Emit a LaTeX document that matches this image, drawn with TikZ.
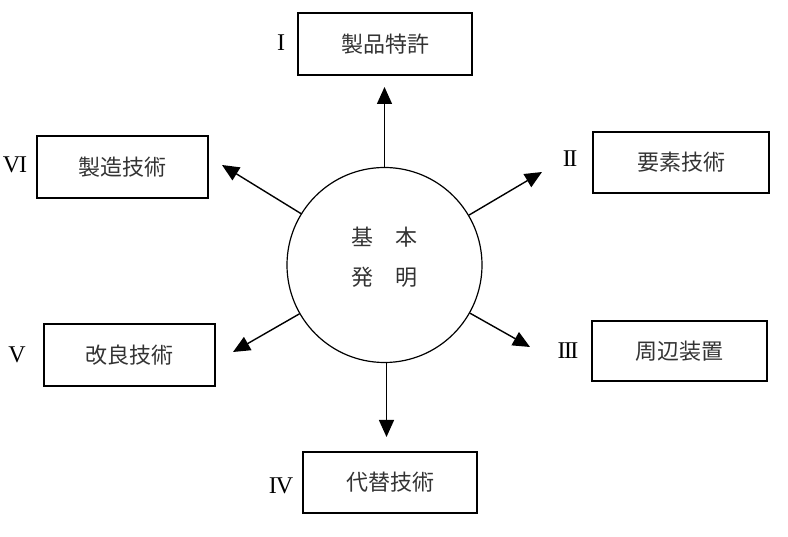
\documentclass[tikz,border=0pt]{standalone}
\usepackage{fontspec}
\setmainfont{Liberation Serif}
\newfontfamily\cjk{Noto Sans CJK JP}[Scale=1]
\usetikzlibrary{arrows.meta}
\begin{document}
\begin{tikzpicture}[x=1pt,y=-1pt,
  box/.style={draw, line width=1.6pt, minimum width=#1, inner sep=0pt, font=\cjk\fontsize{22}{26}\selectfont\color{black!80}},
  box/.default={172pt},
  num/.style={font=\fontsize{24}{26}\selectfont},
  arr/.style={line width=1.4pt, -{Triangle[length=17pt,width=15pt]}}]
\useasboundingbox (0,0) rectangle (788,537);
\node[draw, circle, line width=1.2pt, minimum size=195pt, inner sep=0pt] (c) at (384.5,265) {};
\node[font=\cjk\fontsize{22}{26}\selectfont\color{black!80}] (t1) at (384,237) {基\hspace{22pt}本};
\node[font=\cjk\fontsize{22}{26}\selectfont\color{black!80}] (t2) at (384,277) {発\hspace{22pt}明};
% boxes
\node[box=174pt, minimum height=62pt] (b1) at (385,44) {製品特許};
\node[box=176pt, minimum height=61pt] (b2) at (681,162.5) {要素技術};
\node[box=175pt, minimum height=60pt] (b3) at (679.5,351) {周辺装置};
\node[box=174pt, minimum height=61pt] (b4) at (390,482.5) {代替技術};
\node[box=171pt, minimum height=62pt] (b5) at (129.5,355) {改良技術};
\node[box=171pt, minimum height=62pt] (b6) at (122.5,167) {製造技術};
% numerals
\node[num] (n1) at (281,43) {I};
\node[num] (n2) at (570,159) {I\kern-1.5pt I};
\node[num] (n3) at (568,351) {I\kern-1.5pt I\kern-1.5pt I};
\node[num] (n4) at (281,486) {I\kern-1pt V};
\node[num] (n5) at (17,355) {V};
\node[num] (n6) at (15,165) {V\kern-1pt I};
% arrow tips
\coordinate (p1) at (384.5,87);
\coordinate (p2) at (542,172);
\coordinate (p3) at (530,347);
\coordinate (p4) at (386.5,437);
\coordinate (p5) at (233,352);
\coordinate (p6) at (222,165);
\draw[arr] (c.north) -- (p1);
\draw[arr] (c) -- (p2);
\draw[arr] (c) -- (p3);
\draw[arr] (c.south -| p4) -- (p4);
\draw[arr] (c) -- (p5);
\draw[arr] (c) -- (p6);
\end{tikzpicture}
\end{document}
